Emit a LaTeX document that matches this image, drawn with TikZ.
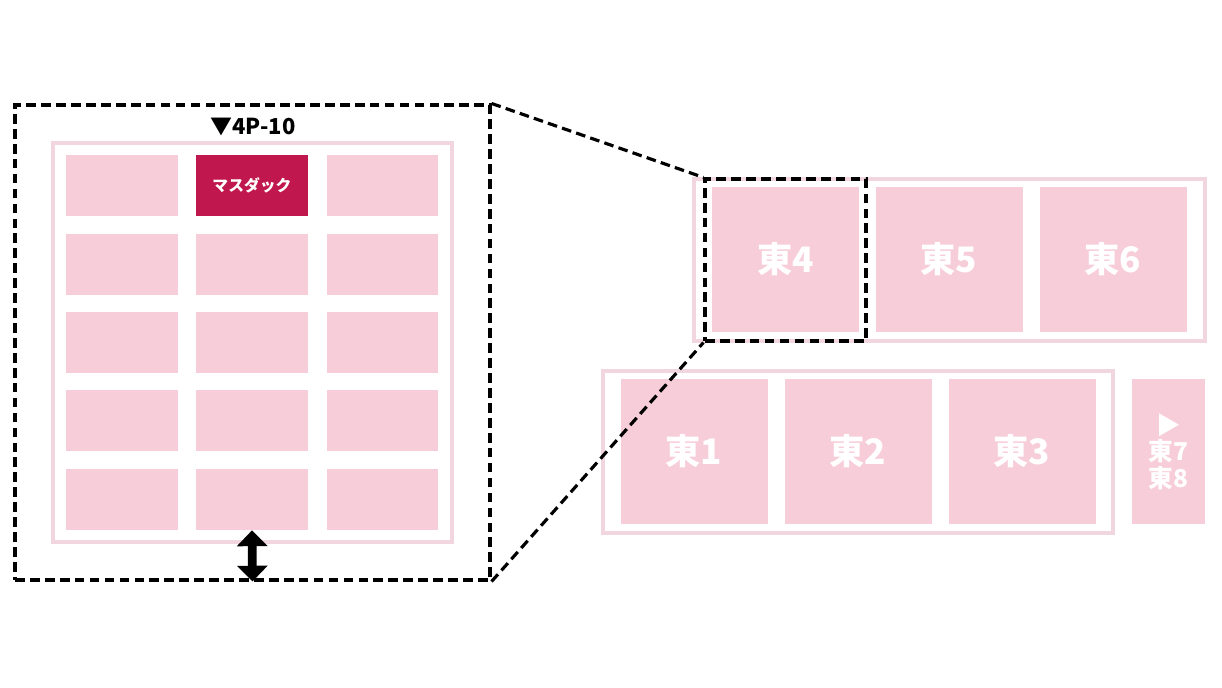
\documentclass[tikz,border=0pt]{standalone}
\usepackage{fontspec}
\usepackage{tikz}
\usetikzlibrary{arrows.meta, positioning}
\setmainfont{Noto Sans CJK JP}
\definecolor{hallpink}{RGB}{247, 205, 217}
\definecolor{framepink}{RGB}{241, 213, 223}
\definecolor{boothred}{RGB}{192, 24, 78}

\begin{document}
\begin{tikzpicture}[
    x=0.02cm, y=-0.02cm,
    cell/.style={fill=hallpink, minimum width=2.24cm, minimum height=1.22cm, inner sep=0pt},
    hall/.style={fill=hallpink, minimum width=2.94cm, minimum height=2.9cm, inner sep=0pt, text=white, font=\bfseries\fontsize{20}{22}\selectfont},
    frame/.style={draw=framepink, line width=1.8pt},
    zoombox/.style={draw, line width=1.8pt, dash pattern=on 5.5pt off 3pt, inner sep=0pt},
    zoomline/.style={line width=1.8pt, dash pattern=on 5.5pt off 3pt}
]

% Canvas
\useasboundingbox[fill=white] (0,0) rectangle (1222,688);

% Close-up of the block
\draw[frame] (53,143) rectangle (452,542);
\foreach \col/\cx in {1/122, 2/252, 3/382.5}
  \foreach \row/\cy in {1/185.5, 2/264.5, 3/342.5, 4/420.5, 5/499.5}
    \node[cell] (c\row\col) at (\cx,\cy) {};
\node[cell, fill=boothred, text=white, font=\bfseries\fontsize{9}{10}\selectfont] (booth) at (252,185.5) {マスダック};
\node[font=\bfseries\fontsize{12.5}{14}\selectfont] (gate) at (253,127) {▼4P-10};
\node[zoombox, minimum width=9.5cm, minimum height=9.5cm] (zoom) at (252.5,342.5) {};
\draw[{Triangle[width=17pt, length=9pt]}-{Triangle[width=17pt, length=9pt]}, line width=5pt] (c52.south) -- (zoom.south);

% East halls
\draw[frame] (694,179) rectangle (1205,341);
\draw[frame] (603,371) rectangle (1113,533);
\node[hall] (e4) at (785.5,259.5) {東4};
\node[hall] (e5) at (949,259.5) {東5};
\node[hall] (e6) at (1113,259.5) {東6};
\node[hall] (e1) at (694,451.5) {東1};
\node[hall] (e2) at (858,451.5) {東2};
\node[hall] (e3) at (1022,451.5) {東3};
\node[hall, minimum width=1.46cm, align=center, font=\bfseries\fontsize{14}{15}\selectfont] (e78) at (1168.5,451.5) {▶\\東7\\東8};

% Zoom connectors
\node[zoombox, minimum width=3.22cm, minimum height=3.24cm] (z4) at (785.5,260) {};
\draw[zoomline] (zoom.north east) -- (z4.north west);
\draw[zoomline] (zoom.south east) -- (z4.south west);

\end{tikzpicture}
\end{document}
